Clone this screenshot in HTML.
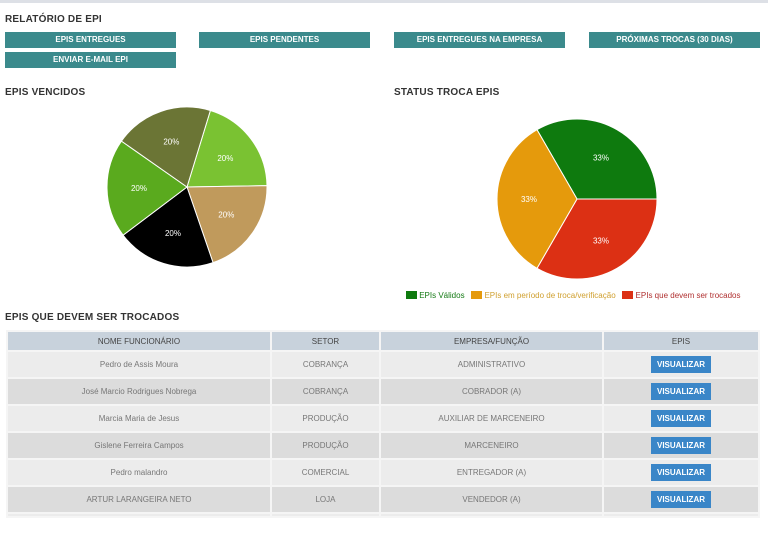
<!DOCTYPE html>
<html><head><meta charset="utf-8"><style>
body{margin:0;width:768px;height:538px;background:#fff;font-family:"Liberation Sans",sans-serif;position:relative;overflow:hidden}
.topline{position:absolute;left:0;top:0;width:768px;height:3px;background:#dde0e6}
h1,h2{position:absolute;margin:0;font-size:10px;font-weight:bold;color:#333;letter-spacing:.2px}
.btn{position:absolute;height:16px;background:#3b8a8c;color:#fff;font-size:8px;font-weight:bold;text-align:center;line-height:16px}
table{position:absolute;left:6px;top:330px;width:754px;border-collapse:separate;border-spacing:2px;font-size:8px;color:#777;background:#f5f5f5}
td,th{text-align:center;height:25px;padding:0}
th{background:#c8d2dc;height:18px;font-weight:normal;color:#444}
tr.a td{background:#ececec}tr.b td{background:#dcdcdc}
.v{display:inline-block;background:#3a86c8;color:#fff;font-weight:bold;width:60px;height:17px;line-height:17px}
svg{position:absolute;left:0;top:0}
</style></head><body>
<div class="topline"></div>
<h1 style="left:5px;top:14px">RELATÓRIO DE EPI</h1>
<div class="btn" style="left:5px;top:32px;width:171px">EPIS ENTREGUES</div>
<div class="btn" style="left:199px;top:32px;width:171px">EPIS PENDENTES</div>
<div class="btn" style="left:394px;top:32px;width:171px">EPIS ENTREGUES NA EMPRESA</div>
<div class="btn" style="left:589px;top:32px;width:171px">PRÓXIMAS TROCAS (30 DIAS)</div>
<div class="btn" style="left:5px;top:52px;width:171px">ENVIAR E-MAIL EPI</div>
<h2 style="left:5px;top:87px">EPIS VENCIDOS</h2>
<h2 style="left:394px;top:87px">STATUS TROCA EPIS</h2>
<h2 style="left:5px;top:312px">EPIS QUE DEVEM SER TROCADOS</h2>
<svg id="s" width="768" height="538"></svg>
<div style="position:absolute;left:406px;top:291px;font-size:8px;white-space:nowrap">
<span style="color:#157a15"><i style="display:inline-block;width:11px;height:8px;background:#0e7a0e;vertical-align:-1px"></i> EPIs Válidos</span>&nbsp;&nbsp;
<span style="color:#d0a030"><i style="display:inline-block;width:11px;height:8px;background:#e59a0c;vertical-align:-1px"></i> EPIs em período de troca/verificação</span>&nbsp;&nbsp;
<span style="color:#b03030"><i style="display:inline-block;width:11px;height:8px;background:#dc3014;vertical-align:-1px"></i> EPIs que devem ser trocados</span>
</div>
<table>
<tr><th style="width:262px">NOME FUNCIONÁRIO</th><th style="width:107px">SETOR</th><th style="width:221px">EMPRESA/FUNÇÃO</th><th>EPIS</th></tr>
<tr class="a"><td>Pedro de Assis Moura</td><td>COBRANÇA</td><td>ADMINISTRATIVO</td><td><span class="v">VISUALIZAR</span></td></tr>
<tr class="b"><td>José Marcio Rodrigues Nobrega</td><td>COBRANÇA</td><td>COBRADOR (A)</td><td><span class="v">VISUALIZAR</span></td></tr>
<tr class="a"><td>Marcia Maria de Jesus</td><td>PRODUÇÃO</td><td>AUXILIAR DE MARCENEIRO</td><td><span class="v">VISUALIZAR</span></td></tr>
<tr class="b"><td>Gislene Ferreira Campos</td><td>PRODUÇÃO</td><td>MARCENEIRO</td><td><span class="v">VISUALIZAR</span></td></tr>
<tr class="a"><td>Pedro malandro</td><td>COMERCIAL</td><td>ENTREGADOR (A)</td><td><span class="v">VISUALIZAR</span></td></tr>
<tr class="b"><td>ARTUR LARANGEIRA NETO</td><td>LOJA</td><td>VENDEDOR (A)</td><td><span class="v">VISUALIZAR</span></td></tr>
<tr class="a"><td style="height:2px"></td><td style="height:2px"></td><td style="height:2px"></td><td style="height:2px"></td></tr>
</table>
<script>
const pie1Values=[20,20,20,20,20];
const pie1Colors=['#7ac232','#c09a5c','#000000','#5aaa1e','#6b7535'];
const pie2Values=[33.3,33.3,33.3];
const pie2Labels=['33%','33%','33%'];
const pie2Colors=['#0e7a0e','#dc3014','#e59a0c'];
const s=document.getElementById('s');
const NS='http://www.w3.org/2000/svg';
function pie(cx,cy,r,vals,cols,labels,startDeg,name){
  const tot=vals.reduce((a,b)=>a+b,0);let a=startDeg*Math.PI/180;
  vals.forEach((v,i)=>{
    const da=v/tot*2*Math.PI,a2=a+da;
    const x1=cx+r*Math.sin(a),y1=cy-r*Math.cos(a),x2=cx+r*Math.sin(a2),y2=cy-r*Math.cos(a2);
    const p=document.createElementNS(NS,'path');
    p.setAttribute('d',`M${cx},${cy}L${x1},${y1}A${r},${r} 0 ${da>Math.PI?1:0} 1 ${x2},${y2}Z`);
    p.setAttribute('fill',cols[i]);p.setAttribute('stroke','#fff');p.setAttribute('stroke-width','1');
    
    
    s.appendChild(p);
    const m=a+da/2,t=document.createElementNS(NS,'text');
    t.setAttribute('x',cx+r*0.6*Math.sin(m));t.setAttribute('y',cy-r*0.6*Math.cos(m)+3);
    t.setAttribute('text-anchor','middle');t.setAttribute('font-size','8');t.setAttribute('fill','#fff');
    t.setAttribute('font-family','Liberation Sans, sans-serif');
    t.textContent=labels[i];
    
    
    s.appendChild(t);
    a=a2;
  });
}
pie(187,187,80,pie1Values,pie1Colors,pie1Values.map(v=>v+'%'),17,'epis-vencidos');
pie(577,199,80,pie2Values,pie2Colors,pie2Labels,-30,'status-troca');
</script>
</body></html>
